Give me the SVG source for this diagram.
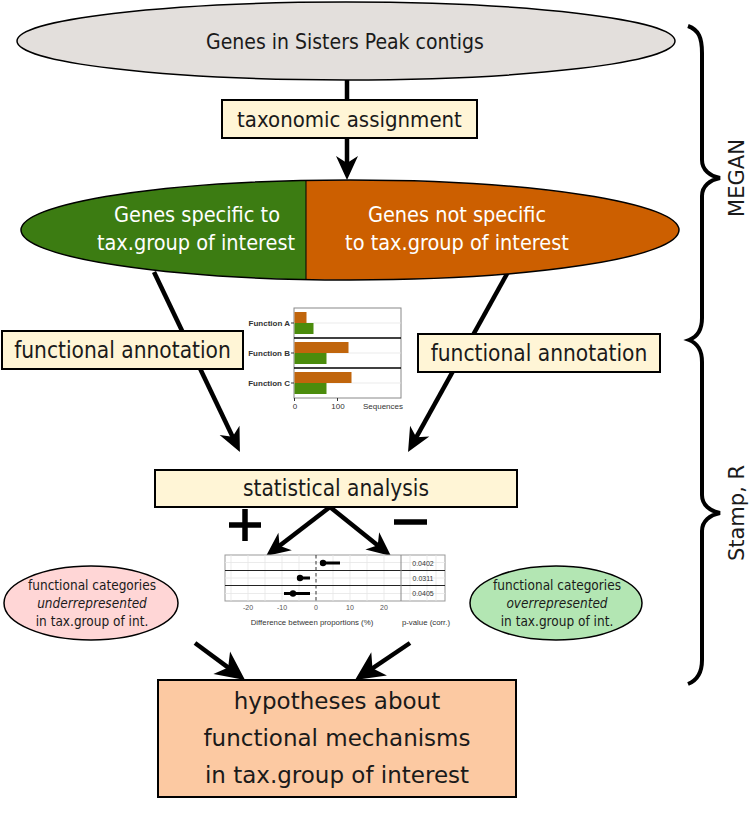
<svg xmlns="http://www.w3.org/2000/svg" width="750" height="830" viewBox="0 0 750 830">
<style>
  .t { font-family: "DejaVu Sans Condensed", "DejaVu Sans", "Liberation Sans", sans-serif; font-stretch: condensed; fill: #1a1a1a; }
  .n { font-family: "DejaVu Sans", "Liberation Sans", sans-serif; fill: #1a1a1a; }
  .w { font-family: "DejaVu Sans Condensed", "DejaVu Sans", "Liberation Sans", sans-serif; font-stretch: condensed; fill: #ffffff; }
  .box { fill: #fff5d6; stroke: #000; stroke-width: 2; }
  .arr { stroke: #000; stroke-width: 4.5; fill: none; }
  .s { font-family: "Liberation Sans", Arial, sans-serif; fill: #333; }
  .g { stroke: #e6e6e6; stroke-width: 0.8; }
</style>
<defs>
  <marker id="ah" markerUnits="userSpaceOnUse" markerWidth="34" markerHeight="34" viewBox="-17 -17 34 34" refX="0" refY="0" orient="auto" overflow="visible">
    <path d="M10,0 L-14,-11 L-7,0 L-14,11 Z" fill="#000"/>
  </marker>
  <marker id="ahb" markerUnits="userSpaceOnUse" markerWidth="40" markerHeight="40" viewBox="-20 -20 40 40" refX="0" refY="0" orient="auto" overflow="visible">
    <path d="M12,0 L-17,-14 L-9,0 L-17,14 Z" fill="#000"/>
  </marker>
</defs>
<rect width="750" height="830" fill="#fff"/>

<g id="connectors">
  <line class="arr" x1="347" y1="78" x2="347" y2="101" stroke-width="4"/>
  <line class="arr" x1="347" y1="138" x2="347" y2="170" stroke-width="4" marker-end="url(#ah)"/>
  <line class="arr" x1="154" y1="272" x2="235.6" y2="443" marker-end="url(#ah)"/>
  <line class="arr" x1="508" y1="272" x2="412.9" y2="443.3" marker-end="url(#ah)"/>
  <line class="arr" x1="330" y1="507" x2="274" y2="550" marker-end="url(#ah)"/>
  <line class="arr" x1="330" y1="507" x2="383.2" y2="549.7" marker-end="url(#ah)"/>
  <line class="arr" x1="195" y1="643" x2="235.4" y2="672.9" stroke-width="6" marker-end="url(#ahb)"/>
  <line class="arr" x1="410" y1="643" x2="365" y2="673.3" stroke-width="6" marker-end="url(#ahb)"/>
</g>

<g id="genes-all">
  <ellipse cx="346" cy="41" rx="329" ry="39" fill="#e3dfdc" stroke="#000" stroke-width="1.5"/>
  <text class="t" x="345" y="49" font-size="21" text-anchor="middle">Genes in Sisters Peak contigs</text>
</g>

<g id="tax-assign">
  <rect class="box" x="222" y="100" width="255" height="38"/>
  <text class="t" x="349.5" y="127" font-size="22" text-anchor="middle">taxonomic assignment</text>
</g>

<g id="genes-split">
  <clipPath id="lc"><rect x="0" y="170" width="306" height="120"/></clipPath>
  <clipPath id="rc"><rect x="306" y="170" width="400" height="120"/></clipPath>
  <ellipse cx="350" cy="230" rx="329" ry="50" fill="#3c7c12" clip-path="url(#lc)"/>
  <ellipse cx="350" cy="230" rx="329" ry="50" fill="#cc5f00" clip-path="url(#rc)"/>
  <ellipse cx="350" cy="230" rx="329" ry="50" fill="none" stroke="#000" stroke-width="1.5"/>
  <line x1="306" y1="180" x2="306" y2="280" stroke="#000" stroke-width="1"/>
  <text class="w" x="197" y="222" font-size="21.5" text-anchor="middle">Genes specific to</text>
  <text class="w" x="196" y="250" font-size="21.5" text-anchor="middle">tax.group of interest</text>
  <text class="w" x="457" y="222" font-size="21.5" text-anchor="middle">Genes not specific</text>
  <text class="w" x="457" y="250" font-size="21.5" text-anchor="middle">to tax.group of interest</text>
</g>

<g id="func-annot-left">
  <rect class="box" x="2" y="331" width="241" height="38"/>
  <text class="t" x="122.5" y="358" font-size="22.5" text-anchor="middle">functional annotation</text>
</g>

<g id="func-annot-right">
  <rect class="box" x="418" y="334" width="242" height="38"/>
  <text class="t" x="539" y="361" font-size="22.5" text-anchor="middle">functional annotation</text>
</g>

<g id="bar-chart">
  <rect x="294" y="308" width="107" height="90" fill="#fff" stroke="#888" stroke-width="1"/>
  <line class="g" x1="294" y1="323" x2="401" y2="323"/>
  <line class="g" x1="294" y1="353" x2="401" y2="353"/>
  <line class="g" x1="294" y1="383" x2="401" y2="383"/>
  <rect x="294.5" y="312" width="12" height="11" fill="#c0650c"/>
  <rect x="294.5" y="323" width="19" height="11" fill="#4b8c0c"/>
  <rect x="294.5" y="342" width="54" height="11" fill="#c0650c"/>
  <rect x="294.5" y="353" width="32" height="11" fill="#4b8c0c"/>
  <rect x="294.5" y="372" width="57" height="11" fill="#c0650c"/>
  <rect x="294.5" y="383" width="32" height="11" fill="#4b8c0c"/>
  <line x1="294" y1="338" x2="401" y2="338" stroke="#000" stroke-width="1.5"/>
  <line x1="294" y1="368" x2="401" y2="368" stroke="#000" stroke-width="1.5"/>
  <g stroke="#333" stroke-width="1">
    <line x1="291" y1="323" x2="294" y2="323"/>
    <line x1="291" y1="353" x2="294" y2="353"/>
    <line x1="291" y1="383" x2="294" y2="383"/>
    <line x1="294.5" y1="398" x2="294.5" y2="401"/>
    <line x1="337.5" y1="398" x2="337.5" y2="401"/>
  </g>
  <g class="s" font-size="8" font-weight="bold" text-anchor="end" fill="#222">
    <text x="290" y="326">Function A</text>
    <text x="290" y="356">Function B</text>
    <text x="290" y="386">Function C</text>
  </g>
  <g class="s" font-size="8" text-anchor="middle" fill="#222">
    <text x="295" y="409">0</text>
    <text x="338" y="409">100</text>
    <text x="383" y="409">Sequences</text>
  </g>
</g>

<g id="stat-analysis">
  <rect class="box" x="155" y="470" width="362" height="37"/>
  <text class="t" x="336" y="496" font-size="22.5" text-anchor="middle">statistical analysis</text>
</g>

<g id="plus-minus" stroke="#000" stroke-width="5.5">
  <line x1="229" y1="525" x2="261" y2="525"/>
  <line x1="245" y1="509" x2="245" y2="541"/>
  <line x1="394" y1="522" x2="427" y2="522"/>
</g>

<g id="dot-plot">
  <rect x="225" y="555" width="220" height="46" fill="#fff" stroke="#999" stroke-width="1"/>
  <g class="g">
    <line x1="231" y1="555" x2="231" y2="601"/>
    <line x1="248" y1="555" x2="248" y2="601"/>
    <line x1="265" y1="555" x2="265" y2="601"/>
    <line x1="282" y1="555" x2="282" y2="601"/>
    <line x1="299" y1="555" x2="299" y2="601"/>
    <line x1="333" y1="555" x2="333" y2="601"/>
    <line x1="350" y1="555" x2="350" y2="601"/>
    <line x1="367" y1="555" x2="367" y2="601"/>
    <line x1="384" y1="555" x2="384" y2="601"/>
    <line x1="410" y1="555" x2="410" y2="601"/>
    <line x1="427" y1="555" x2="427" y2="601"/>
    <line x1="436" y1="555" x2="436" y2="601"/>
    <line x1="225" y1="562.5" x2="445" y2="562.5"/>
    <line x1="225" y1="578" x2="445" y2="578"/>
    <line x1="225" y1="593.5" x2="445" y2="593.5"/>
  </g>
  <line x1="225" y1="570.5" x2="445" y2="570.5" stroke="#222" stroke-width="1.1"/>
  <line x1="225" y1="585.5" x2="445" y2="585.5" stroke="#222" stroke-width="1.1"/>
  <line x1="401" y1="555" x2="401" y2="601" stroke="#888" stroke-width="1"/>
  <line x1="316" y1="555" x2="316" y2="601" stroke="#333" stroke-width="1" stroke-dasharray="3.5,2.5"/>
  <g stroke="#000" stroke-width="3">
    <line x1="320" y1="563" x2="340" y2="563"/>
    <line x1="297" y1="578" x2="310" y2="578"/>
    <line x1="284" y1="593.5" x2="310" y2="593.5"/>
  </g>
  <circle cx="323" cy="563" r="3.2" fill="#000"/>
  <circle cx="300" cy="578" r="3.2" fill="#000"/>
  <circle cx="293" cy="593.5" r="3.2" fill="#000"/>
  <g class="s" font-size="7" text-anchor="middle">
    <text x="423" y="565.5">0.0402</text>
    <text x="423" y="580.5">0.0311</text>
    <text x="423" y="596">0.0405</text>
    <text x="248" y="610" fill="#555">-20</text>
    <text x="282" y="610" fill="#555">-10</text>
    <text x="316" y="610" fill="#555">0</text>
    <text x="350" y="610" fill="#555">10</text>
    <text x="384" y="610" fill="#555">20</text>
    <text x="312" y="625" font-size="7.8">Difference between proportions (%)</text>
    <text x="426" y="625" font-size="7.8">p-value (corr.)</text>
  </g>
</g>

<g id="under">
  <ellipse cx="91" cy="603" rx="87" ry="37" fill="#ffd6d6" stroke="#000" stroke-width="1.5"/>
  <text class="t" x="92" y="590" font-size="13.5" text-anchor="middle">functional categories</text>
  <text class="t" x="92" y="608" font-size="13.5" font-style="italic" text-anchor="middle">underrepresented</text>
  <text class="t" x="92" y="626" font-size="13.5" text-anchor="middle">in tax.group of int.</text>
</g>

<g id="over">
  <ellipse cx="556" cy="603" rx="86" ry="37" fill="#b3e6b3" stroke="#000" stroke-width="1.5"/>
  <text class="t" x="557" y="590" font-size="13.5" text-anchor="middle">functional categories</text>
  <text class="t" x="557" y="608" font-size="13.5" font-style="italic" text-anchor="middle">overrepresented</text>
  <text class="t" x="557" y="626" font-size="13.5" text-anchor="middle">in tax.group of int.</text>
</g>

<g id="hypotheses">
  <rect x="158" y="680" width="358" height="117" fill="#fcc9a2" stroke="#000" stroke-width="2"/>
  <text class="n" x="337" y="709" font-size="23" text-anchor="middle">hypotheses about</text>
  <text class="n" x="337" y="746" font-size="23" text-anchor="middle">functional mechanisms</text>
  <text class="n" x="337" y="783" font-size="23" text-anchor="middle">in tax.group of interest</text>
</g>

<g id="braces">
  <path d="M688,26 C699,30 702,38 702,53 L702,160 C702,170 710,176 720,178 C710,180 702,186 702,196 L702,318 C702,330 697,337 689,340 C697,343 702,350 702,362 L702,495 C702,505 710,511 720,513 C710,515 702,521 702,531 L702,660 C702,672 698,680 688,684" fill="none" stroke="#000" stroke-width="4"/>
  <text class="n" transform="translate(744,178) rotate(-90)" font-size="21" text-anchor="middle">MEGAN</text>
  <text class="n" transform="translate(744,513) rotate(-90)" font-size="21" text-anchor="middle">Stamp, R</text>
</g>
</svg>
